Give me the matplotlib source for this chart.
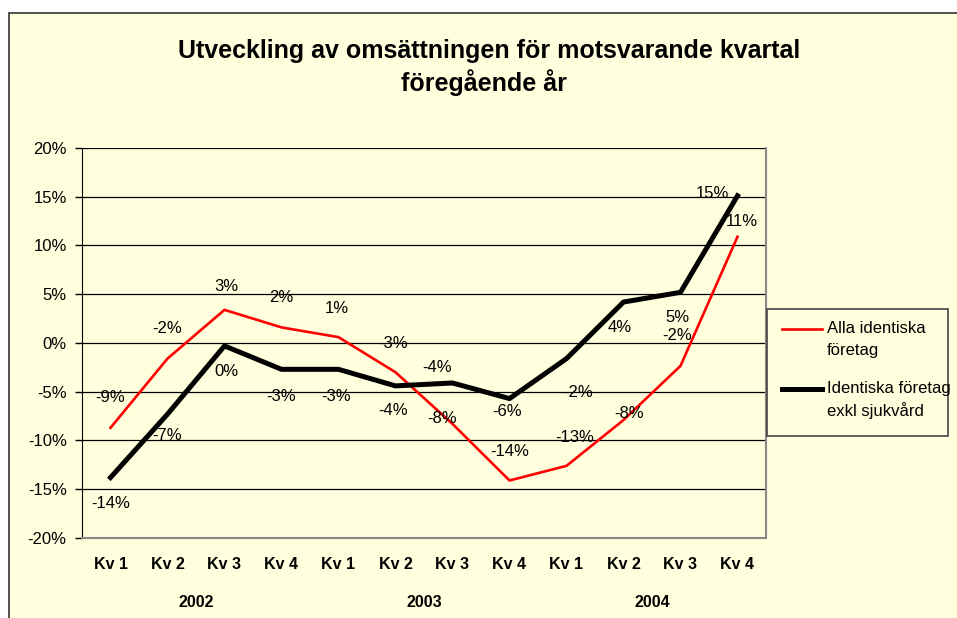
import matplotlib
matplotlib.use("Agg")
import matplotlib.pyplot as plt
from matplotlib.patches import Rectangle
from matplotlib.lines import Line2D

plt.rcParams['font.family'] = ['Liberation Sans', 'DejaVu Sans']

quarters = ['Kv 1', 'Kv 2', 'Kv 3', 'Kv 4'] * 3
years = ['2002', '2003', '2004']
alla = [-8.7, -1.6, 3.4, 1.6, 0.6, -3.0, -8.3, -14.1, -12.6, -7.9, -2.35, 10.9]
exkl = [-13.8, -7.3, -0.3, -2.7, -2.7, -4.4, -4.1, -5.7, -1.6, 4.2, 5.2, 15.1]

# label offsets in pixels (dx, dy), tuned to match the original
alla_off = [(0, 30), (0, 30), (2, 23), (0, 30), (-2, 29), (-2, 29),
            (-10, 5), (0, 29), (8, 28), (6, 7), (-3, 30), (4, 15)]
exkl_off = [(0, -26), (0, -21), (2, -26), (0, -27), (-2, -27), (-2, -25),
            (-15, 15), (-2, -13), (12, -34), (-4, -25), (-3, -25), (-25, 2)]

W, H = 957, 618
bg = '#FFFFDD'


def fx(x):
    return x / W


def fy(y):
    return 1 - y / H


fig = plt.figure(figsize=(W / 100, H / 100), dpi=100)
fig.patch.set_facecolor('white')
fig.patches.append(Rectangle((fx(9), -0.02), 1.05, fy(13) + 0.02, transform=fig.transFigure,
                             facecolor=bg, edgecolor='#333333', linewidth=1.2, zorder=-10))

ax = fig.add_axes([fx(82), fy(538), (766 - 82) / W, (538 - 148) / H])
ax.set_facecolor(bg)

x = list(range(len(quarters)))
ax.plot(x, alla, color='red', linewidth=1.9, zorder=3)
ax.plot(x, exkl, color='black', linewidth=3.6, zorder=3)

for vals, offs in [(alla, alla_off), (exkl, exkl_off)]:
    for i, v in enumerate(vals):
        ax.annotate(f"{round(v)}%", (i, v), xytext=offs[i], textcoords='offset pixels',
                    ha='center', va='center', fontsize=12, zorder=4)

ax.set_xlim(-0.5, len(quarters) - 0.5)
ax.set_ylim(-20, 20)
ax.set_yticks(range(-20, 21, 5))
ax.set_yticklabels([f"{t}%" for t in range(-20, 21, 5)], fontsize=12)
ax.set_xticks(x)
ax.set_xticklabels(quarters, fontsize=11.5, fontweight='bold')
ax.tick_params(axis='x', length=0, pad=14)
ax.tick_params(axis='y', length=5, width=1, direction='out', pad=6)
ax.grid(axis='y', color='black', linewidth=0.9)
ax.set_axisbelow(True)

ax.spines['top'].set_visible(False)
ax.spines['left'].set_color('black')
ax.spines['bottom'].set_color('#888888')
ax.spines['right'].set_color('#888888')
ax.spines['bottom'].set_linewidth(1.5)
ax.spines['right'].set_linewidth(1.5)

for k, yr in enumerate(years):
    ax.text(4 * k + 1.5, -0.165, yr, transform=ax.get_xaxis_transform(),
            ha='center', va='center', fontsize=11.5, fontweight='bold')

fig.text(fx(489), fy(51), 'Utveckling av omsättningen för motsvarande kvartal',
         ha='center', va='center', fontsize=18, fontweight='bold')
fig.text(fx(484), fy(83), 'föregående år', ha='center', va='center', fontsize=18, fontweight='bold')

# legend
fig.patches.append(Rectangle((fx(767), fy(436)), (948 - 767) / W, (436 - 309) / H,
                             transform=fig.transFigure, facecolor=bg,
                             edgecolor='#444444', linewidth=1.2, zorder=5))
fig.lines.append(Line2D([fx(782), fx(822)], [fy(329), fy(329)], transform=fig.transFigure,
                        color='red', linewidth=1.9, zorder=6))
fig.lines.append(Line2D([fx(782), fx(822)], [fy(389), fy(389)], transform=fig.transFigure,
                        color='black', linewidth=3.6, zorder=6))
for ty, txt in [(329, 'Alla identiska'), (351, 'företag'),
                (389, 'Identiska företag'), (411, 'exkl sjukvård')]:
    fig.text(fx(827), fy(ty), txt, ha='left', va='center', fontsize=12, zorder=7)

fig.savefig('out.png', dpi=100, facecolor=fig.get_facecolor())
